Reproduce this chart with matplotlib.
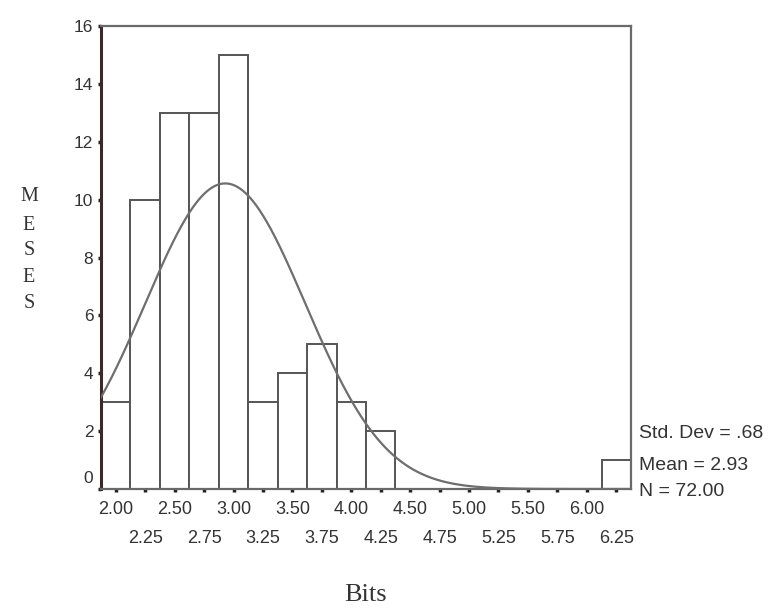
import numpy as np
import matplotlib.pyplot as plt
import matplotlib.transforms as mtransforms

# histogram of bits, SPSS style
bin_centers = [2.00, 2.25, 2.50, 2.75, 3.00, 3.25, 3.50, 3.75, 4.00,
               4.25, 4.50, 4.75, 5.00, 5.25, 5.50, 5.75, 6.00, 6.25]
counts = [3, 10, 13, 13, 15, 3, 4, 5, 3, 2, 0, 0, 0, 0, 0, 0, 0, 1]
BIN_W = 0.25
MEAN, SD, N = 2.93, 0.68, 72
y_ticks = [0, 2, 4, 6, 8, 10, 12, 14, 16]
row1 = ["2.00", "2.50", "3.00", "3.50", "4.00", "4.50", "5.00", "5.50", "6.00"]
row2 = ["2.25", "2.75", "3.25", "3.75", "4.25", "4.75", "5.25", "5.75", "6.25"]

EDGE = "#555555"
SANS = "Liberation Sans"

fig = plt.figure(figsize=(7.73, 6.13), dpi=100)
ax = fig.add_axes([101 / 773, 1 - 489 / 613, 530 / 773, 463 / 613])

ax.bar(bin_centers, counts, width=BIN_W, facecolor="white",
       edgecolor=EDGE, linewidth=1.4, zorder=2)

xs = np.linspace(bin_centers[0] - BIN_W / 2, bin_centers[-1] + BIN_W / 2, 400)
pdf = np.exp(-0.5 * ((xs - MEAN) / SD) ** 2) / (SD * np.sqrt(2 * np.pi))
ax.plot(xs, pdf * N * BIN_W, color="#6e6e6e", lw=1.6, zorder=3)

ax.set_xlim(bin_centers[0] - BIN_W / 2, bin_centers[-1] + BIN_W / 2)
ax.set_ylim(0, 16)

ax.set_yticks(y_ticks)
ax.set_yticklabels([str(v) for v in y_ticks], fontfamily=SANS, fontsize=12.5,
                   color="#333333")
ax.tick_params(axis="y", length=2.5, width=2.5, color="#222222", pad=3)
# SPSS puts the "0" label a bit above the baseline
lab0 = ax.get_yticklabels()[0]
lab0.set_transform(lab0.get_transform() +
                   mtransforms.ScaledTranslation(0, 12 / 100, fig.dpi_scale_trans))

ax.set_xticks(bin_centers[0::2])
ax.set_xticklabels(row1, fontfamily=SANS, fontsize=13, color="#333333")
ax.set_xticks(bin_centers[1::2], minor=True)
ax.set_xticklabels(row2, minor=True, fontfamily=SANS, fontsize=13,
                   color="#333333")
ax.tick_params(axis="x", which="both", length=2.5, width=2.5,
               color="#222222", direction="out")
ax.tick_params(axis="x", which="major", pad=6)
ax.tick_params(axis="x", which="minor", pad=27)

ax.spines["left"].set_color("#3a2a2a")
ax.spines["left"].set_linewidth(2.2)
for s in ["top", "right", "bottom"]:
    ax.spines[s].set_color("#6a6a6a")
    ax.spines[s].set_linewidth(1.6)

# stats box text
stats = ["Std. Dev = .68", "Mean = 2.93", "N = 72.00"]
for txt, yy in zip(stats, [433, 466, 492]):
    fig.text(639 / 773, 1 - yy / 613, txt, fontfamily=SANS, fontsize=14,
             color="#333333", va="center", ha="left")

fig.text(366 / 773, 1 - 595 / 613, "Bits", fontfamily="Liberation Serif",
         fontsize=19, color="#333333", ha="center", va="center")

for letter, yy in zip("MESES", [197, 225, 250, 278, 303]):
    fig.text(29 / 773, 1 - yy / 613, letter, fontfamily="Liberation Serif",
             fontsize=14.5, color="#333333", ha="center", va="center")

fig.savefig("out.png", dpi=100)
